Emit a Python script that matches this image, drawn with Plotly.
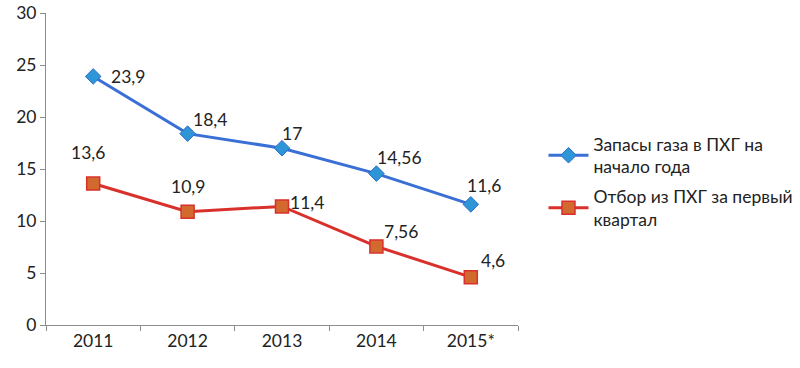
import plotly.graph_objects as go

years = ["2011", "2012", "2013", "2014", "2015*"]
stock = [23.9, 18.4, 17, 14.56, 11.6]
withdrawal = [13.6, 10.9, 11.4, 7.56, 4.6]
stock_labels = ["23,9", "18,4", "17", "14,56", "11,6"]
withdrawal_labels = ["13,6", "10,9", "11,4", "7,56", "4,6"]
y_ticks = [0, 5, 10, 15, 20, 25, 30]

FONT = "Lato, Calibri, Carlito, sans-serif"
FS = 17.5

# label offsets in pixels (x right, y up)
stock_shift = [(35, 0), (22, 14), (10, 15), (23, 16), (13, 19)]
withdrawal_shift = [(-5, 31), (0, 25), (25, 4), (25, 15), (22, 17)]

fig = go.Figure()
fig.add_trace(go.Scatter(
    x=years, y=stock, mode="lines+markers", legendgroup="g1",
    name="Запасы газа в ПХГ на<br>начало года",
    line=dict(color="#3A6FD6", width=3),
    marker=dict(symbol="diamond", size=12, color="#2E96D6", line=dict(color="#2F6FC8", width=1)),
    cliponaxis=False,
))
fig.add_trace(go.Scatter(
    x=years, y=withdrawal, mode="lines+markers", legendgroup="g2",
    name="Отбор из ПХГ за первый<br>квартал",
    line=dict(color="#D9302C", width=3),
    marker=dict(symbol="square", size=13, color="#D2692E", line=dict(color="#D9302C", width=1.5)),
    cliponaxis=False,
))

# annotations on the category axis use the category index
for ys, labs, shifts in [(stock, stock_labels, stock_shift),
                         (withdrawal, withdrawal_labels, withdrawal_shift)]:
    for i, (yv, lab, (dx, dy)) in enumerate(zip(ys, labs, shifts)):
        fig.add_annotation(x=i, y=yv, xref="x", yref="y", text=lab, showarrow=False,
                           xshift=dx, yshift=dy,
                           font=dict(size=FS, family=FONT, color="#222222"))

fig.update_layout(
    width=800, height=368,
    margin=dict(l=46, r=282, t=13, b=43, autoexpand=False),
    paper_bgcolor="white", plot_bgcolor="white",
    font=dict(family=FONT, size=FS, color="#222222"),
    legend=dict(x=1.054, y=0.46, xanchor="left", yanchor="middle",
                font=dict(size=FS, family=FONT, color="#222222"),
                tracegroupgap=4, itemwidth=40, bgcolor="rgba(0,0,0,0)"),
    showlegend=True,
)
fig.update_xaxes(
    type="category", range=[-0.5, 4.5], automargin=False,
    showline=True, linecolor="#8C8C8C", linewidth=1,
    ticks="outside", tickson="boundaries", ticklen=5, tickcolor="#8C8C8C",
    showgrid=False, tickfont=dict(size=FS, family=FONT),
)
fig.update_yaxes(
    range=[0, 30], tickvals=y_ticks, automargin=False,
    showline=True, linecolor="#8C8C8C", linewidth=1,
    ticks="outside", ticklen=5, tickcolor="#8C8C8C",
    showgrid=False, zeroline=False, tickfont=dict(size=FS, family=FONT),
)

fig.write_html("out.html", config={"displayModeBar": False},
               post_script="document.body.style.margin='0';")
